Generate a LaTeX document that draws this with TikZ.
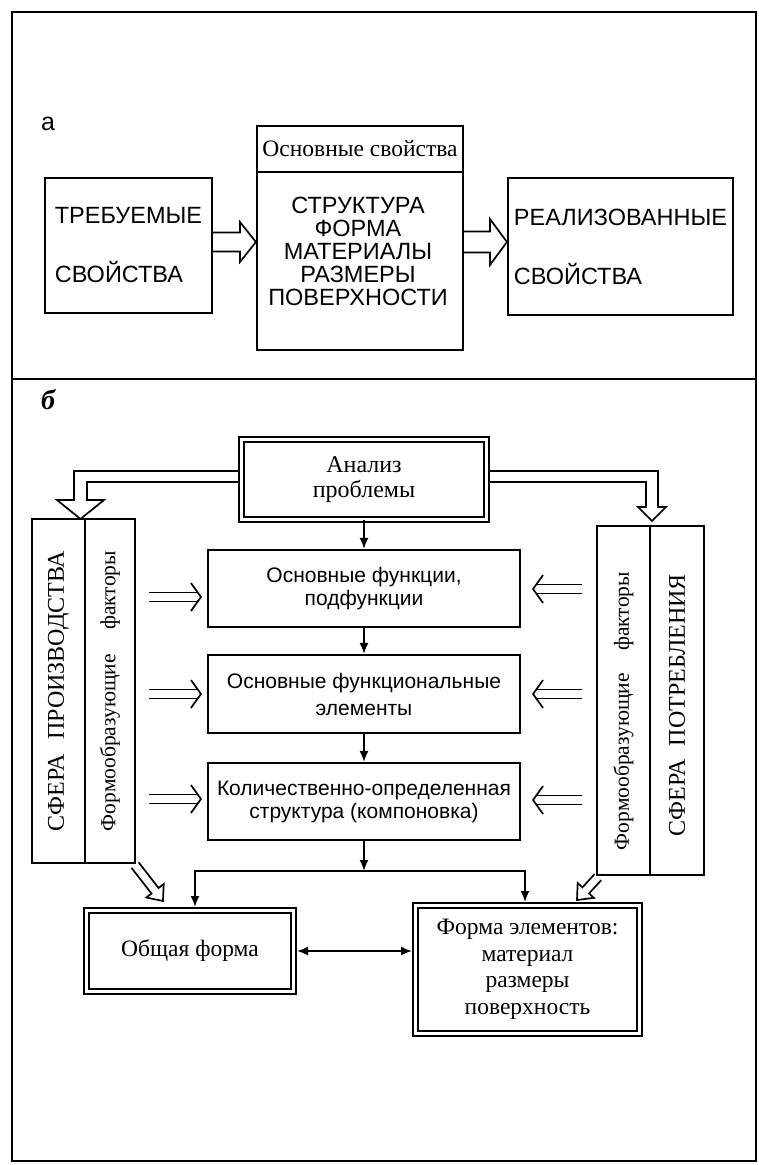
\documentclass[tikz,border=0pt]{standalone}
\usepackage{fontspec}
\setmainfont{Liberation Serif}
\setsansfont{Liberation Sans}
\usetikzlibrary{calc,arrows.meta}

% outlined block arrow: start, tip, shaft half width, head half width, head length
\newcommand\hollowarr[5]{%
  \coordinate (hh) at ($(#2)!#5!(#1)$);
  \draw[hollow] ($(#1)!#3!90:(#2)$) -- ($(hh)!#3!90:(#2)$) -- ($(hh)!#4!90:(#2)$)
     -- (#2) -- ($(hh)!#4!-90:(#2)$) -- ($(hh)!#3!-90:(#2)$) -- ($(#1)!#3!-90:(#2)$);
}
% double-stroke arrow with an open chevron head
\newcommand\implarr[2]{%
  \coordinate (ib) at ($(#2)!3.5pt!(#1)$);
  \coordinate (iw) at ($(#2)!10pt!(#1)$);
  \draw[impl] ($(#1)!4.5pt!90:(#2)$) -- ($(ib)!4.5pt!-90:(#1)$);
  \draw[impl] ($(#1)!4.5pt!-90:(#2)$) -- ($(ib)!4.5pt!90:(#1)$);
  \draw[impl, line join=miter] ($(iw)!14pt!90:(#2)$) -- (#2) -- ($(iw)!14pt!-90:(#2)$);
}

\tikzset{
  frame/.style={line width=1.8pt},
  box/.style={draw, line width=2.1pt, inner sep=0pt, align=center},
  dbox/.style={draw, line width=1.8pt, double distance=3pt, inner sep=0pt, align=center},
  txt/.style={inner sep=0pt, align=center},
  capsA/.style={font=\sffamily\fontsize{23.5}{23}\selectfont},
  capsB/.style={font=\sffamily\fontsize{23.5}{59}\selectfont},
  serifA/.style={font=\rmfamily\fontsize{23.5}{26.5}\selectfont},
  sansB/.style={font=\sffamily\fontsize{21}{23}\selectfont},
  vert/.style={inner sep=0pt, rotate=90, font=\rmfamily\fontsize{21.5}{24}\selectfont},
  flow/.style={line width=1.8pt, -{Latex[length=11pt,width=9pt]}},
  both/.style={line width=1.8pt, {Latex[length=11pt,width=9pt]}-{Latex[length=11pt,width=9pt]}},
  hollow/.style={line width=1.7pt, line join=miter},
  impl/.style={line width=1.7pt}
}

\begin{document}
\begin{tikzpicture}[x=1pt,y=-1pt]
\useasboundingbox (0,0) rectangle (759,1165);
\draw[frame] (12,12) rectangle (756,1161);
\draw[frame] (12,379) -- (756,379);

% ---------- part a ----------
\node[txt, font=\sffamily\fontsize{25}{25}\selectfont] (la) at (48,124) {а};
\node[box, minimum width=206, minimum height=46, font=\rmfamily\fontsize{23.5}{23}\selectfont] (hdr) at (360,149) {Основные свойства};
\node[box, minimum width=206, minimum height=178] (core) at (360,261) {};
\node[txt, capsA] (coretext) at (358,251) {СТРУКТУРА\\ФОРМА\\МАТЕРИАЛЫ\\РАЗМЕРЫ\\ПОВЕРХНОСТИ};
\node[box, capsB, align=left, minimum width=167, minimum height=135] (req) at (128.5,245.5) {ТРЕБУЕМЫЕ\\СВОЙСТВА};
\node[box, capsB, align=left, minimum width=225, minimum height=137] (real) at (620.5,246.5) {РЕАЛИЗОВАННЫЕ\\СВОЙСТВА};

\coordinate (a1s) at ($(req.east)+(0,-3.5)$);
\coordinate (a1t) at ($(core.west)+(0,-19)$);
\coordinate (a2s) at ($(core.east)+(0,-19)$);
\coordinate (a2t) at ($(real.west)+(0,-4.5)$);
\hollowarr{a1s}{a1t}{9.5pt}{20pt}{16pt}
\hollowarr{a2s}{a2t}{10.5pt}{23pt}{17pt}

% ---------- part b ----------
\node[txt, font=\rmfamily\bfseries\itshape\fontsize{28}{28}\selectfont] (lb) at (48,400) {б};

\node[dbox, font=\rmfamily\fontsize{24}{25}\selectfont, minimum width=245, minimum height=80] (an) at (364,479.5) {Анализ\\проблемы};
\node[box, sansB, minimum width=312, minimum height=77] (f1) at (364,588.5) {Основные функции,\\подфункции};
\node[box, minimum width=312, minimum height=78, font=\sffamily\fontsize{21}{27}\selectfont] (f2) at (364,694) {Основные функциональные\\элементы};
\node[box, sansB, minimum width=312, minimum height=77] (f3) at (364,801.5) {Количественно-определенная\\структура (компоновка)};

% side columns
\node[box, minimum width=53, minimum height=344] (lsfera) at (58.5,691) {};
\node[box, minimum width=50, minimum height=344] (lform) at (110,691) {};
\node[box, minimum width=53, minimum height=349] (rform) at (623.5,700.5) {};
\node[box, minimum width=54, minimum height=349] (rsfera) at (677,700.5) {};
\node[vert, font=\rmfamily\fontsize{24}{24}\selectfont] (tlsfera) at (lsfera.center) {\makebox[280pt][s]{СФЕРА ПРОИЗВОДСТВА}};
\node[vert] (tlform) at (lform.center) {\makebox[280pt][s]{Формообразующие факторы}};
\node[vert] (trform) at (623.5,711) {\makebox[278pt][s]{Формообразующие факторы}};
\node[vert, font=\rmfamily\fontsize{24}{24}\selectfont] (trsfera) at (677,705) {\makebox[262pt][s]{СФЕРА ПОТРЕБЛЕНИЯ}};

% result boxes
\node[dbox, serifA, minimum width=207, minimum height=81] (gen) at (190,951) {Общая форма};
\node[dbox, serifA, minimum width=224, minimum height=128] (elem) at (527.5,969.5) {Форма элементов:\\материал\\размеры\\поверхность};

% main chain
\draw[flow] (an.south) -- (f1.north);
\draw[flow] (f1.south) -- (f2.north);
\draw[flow] (f2.south) -- (f3.north);
\coordinate (jn) at (364,871);
\draw[flow] (f3.south) -- (jn);
\coordinate (gin) at ($(gen.north)+(5,-2.6)$);
\coordinate (ein) at ($(elem.north)+(-2.5,-2.6)$);
\draw[flow] (jn) -| (gin);
\draw[flow] (jn) -| (ein);
\draw[both] ($(gen.east)+(2.6,0)$) -- ($(elem.west |- gen.east)+(-2.6,0)$);

% branches from the problem analysis to both spheres
\draw[hollow] ($(an.west)+(-2.6,-8.5)$) -- (74,471) -- (74,500) -- (57,500) -- (80.5,519)
   -- (104,500) -- (87,500) -- (87,482) -- ($(an.west)+(-2.6,2.5)$);
\draw[hollow] ($(an.east)+(2.6,-8.5)$) -- (658,471) -- (658,507) -- (666,507) -- (652,521)
   -- (638,507) -- (646,507) -- (646,482) -- ($(an.east)+(2.6,2.5)$);

% factor inputs
\coordinate (l1s) at ($(lform.east |- f1.west)+(13,8.5)$);
\coordinate (l1t) at ($(f1.west)+(-6,8.5)$);
\coordinate (l2s) at ($(lform.east |- f2.west)+(13,0)$);
\coordinate (l2t) at ($(f2.west)+(-6,0)$);
\coordinate (l3s) at ($(lform.east |- f3.west)+(13,-2.5)$);
\coordinate (l3t) at ($(f3.west)+(-6,-2.5)$);
\coordinate (r1s) at ($(rform.west |- f1.east)+(-14,0.5)$);
\coordinate (r1t) at ($(f1.east)+(12,0.5)$);
\coordinate (r2s) at ($(rform.west |- f2.east)+(-14,0)$);
\coordinate (r2t) at ($(f2.east)+(12,0)$);
\coordinate (r3s) at ($(rform.west |- f3.east)+(-14,-1.5)$);
\coordinate (r3t) at ($(f3.east)+(12,-1.5)$);
\implarr{l1s}{l1t}
\implarr{l2s}{l2t}
\implarr{l3s}{l3t}
\implarr{r1s}{r1t}
\implarr{r2s}{r2t}
\implarr{r3s}{r3t}

% factors acting on the results
\coordinate (dl1) at ($(lform.south east)+(-1,1)$);
\coordinate (dl2) at (163,901);
\coordinate (dr1) at ($(rform.south west)+(2,1)$);
\coordinate (dr2) at (577,900);
\hollowarr{dl1}{dl2}{4.5pt}{11pt}{13pt}
\hollowarr{dr1}{dr2}{4.5pt}{11pt}{13pt}
\end{tikzpicture}
\end{document}
